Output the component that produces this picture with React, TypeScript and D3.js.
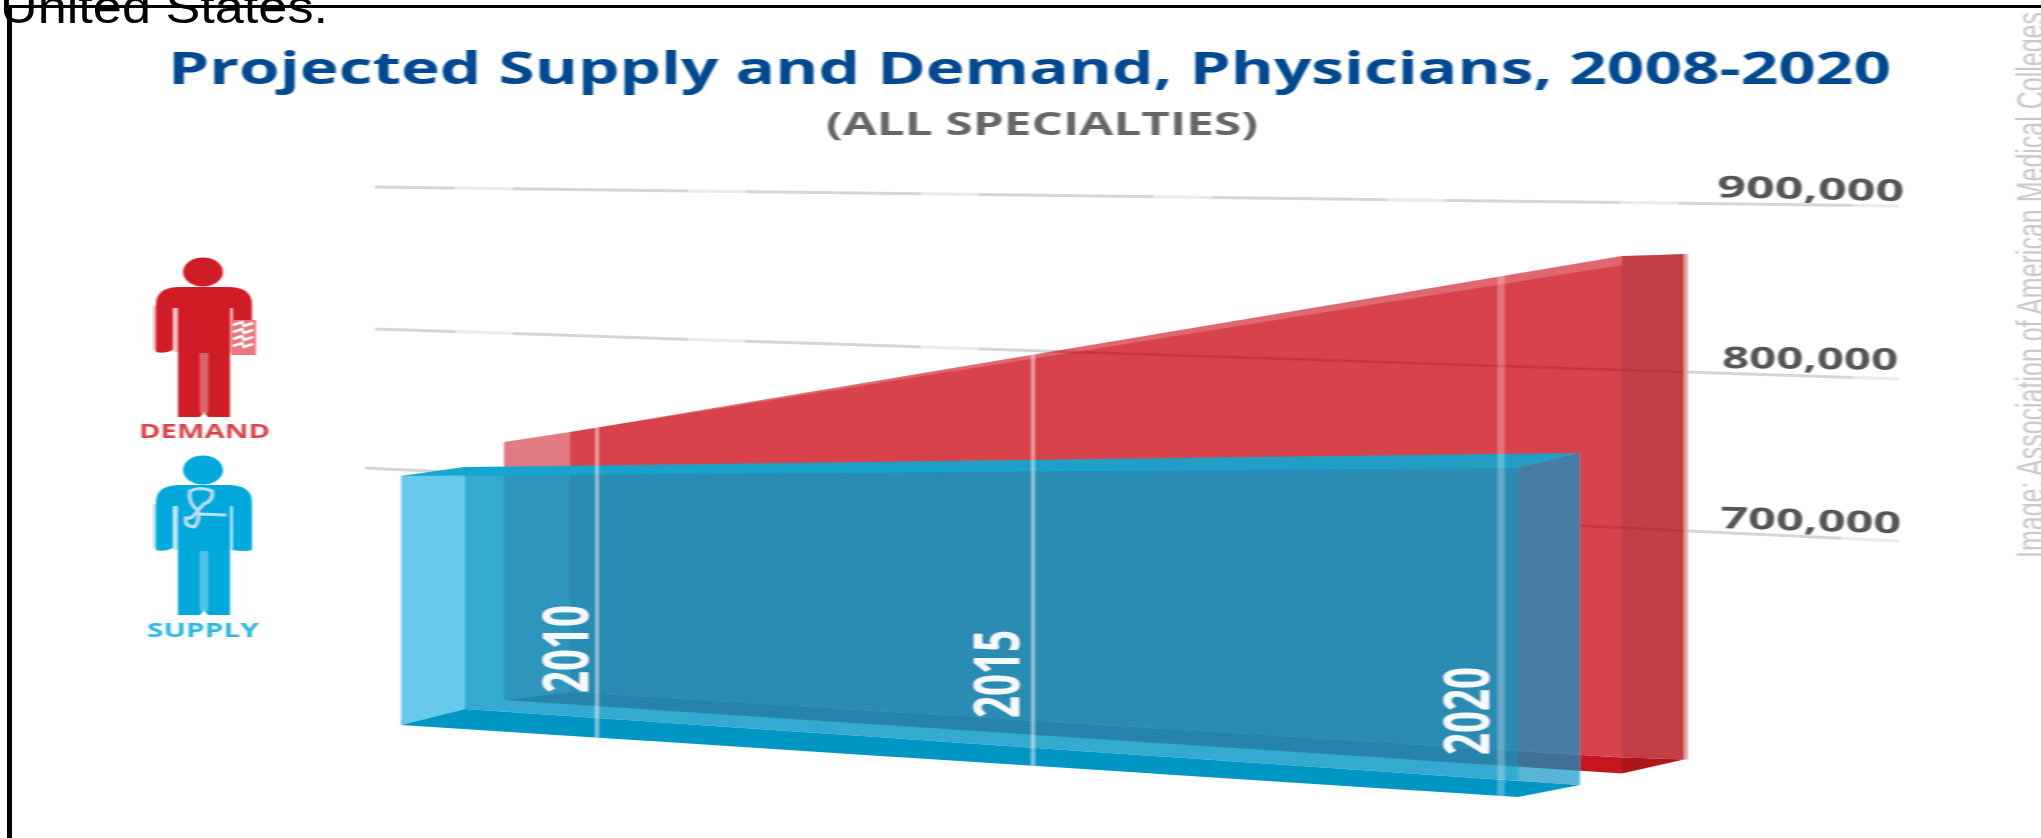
import React from "react";
import * as d3 from "d3";

// ---- data ----
const tickValues = [700000, 800000, 900000];
const tickLabels = ["700,000", "800,000", "900,000"];
const years = [2008, 2010, 2015, 2020];
const yearLabels = [2010, 2015, 2020];
const demandTop = [732000, 757500, 816500, 868000];
const demandBase = [549000, 550000, 552500, 554500];
const supplyTop = [695300, 702600, 719600, 735100];
const supplyBase = [516800, 518300, 521600, 524500];

const W = 2041;
const H = 838;

// Perspective: the value axis is drawn on a tilted plane, so each value has a left and a right end
const gridX0 = 370;
const gridX1 = 1899;
const yLeft = d3.scaleLinear().domain(tickValues).range([468, 329, 187]);
const yRight = d3.scaleLinear().domain(tickValues).range([541, 379, 206]);
const yAt = (v: number, x: number) => {
  const t = (x - gridX0) / (gridX1 - gridX0);
  return yLeft(v) + (yRight(v) - yLeft(v)) * t;
};
const yearX = d3.scaleLinear().domain([2010, 2015, 2020]).range([597, 1033, 1501]);
const demandX = d3.scaleLinear().domain([2008, 2020]).range([570, 1622]);
const supplyX = d3.scaleLinear().domain([2008, 2020]).range([401, 1518]);

type P = [number, number];
const closed = d3.line<P>().curve(d3.curveLinearClosed);
const poly = (pts: P[]) => closed(pts) as string;

const topEdge = (vals: number[], sx: d3.ScaleLinear<number, number>): P[] =>
  years.map((yr, i) => [sx(yr), yAt(vals[i], sx(yr))] as P);

// Demand box
const dTop = topEdge(demandTop, demandX);
const dBase = topEdge(demandBase, demandX);
const dTL = dTop[0], dTR = dTop[dTop.length - 1], dBL = dBase[0], dBR = dBase[dBase.length - 1];
const dBackTL: P = [dTL[0] - 66, dTL[1] + 10];
const dBackBL: P = [dBL[0] - 66, dBL[1] + 8];
const dBackTR: P = [dTR[0] + 62, dTR[1] - 2];
const dBackBR: P = [dBR[0] + 62, dBR[1] + 2];
const dFloorFront: P = [dBR[0], dBR[1] + 16];
const demandFront = poly([...dTop, ...[...dBase].reverse()]);

// Supply box
const sTop = topEdge(supplyTop, supplyX);
const sBase = topEdge(supplyBase, supplyX);
const sTL = sTop[0], sTR = sTop[sTop.length - 1], sBL = sBase[0], sBR = sBase[sBase.length - 1];
const sBackTL: P = [465, sTL[1] - 9];
const sBackTR: P = [1580, sTR[1] - 15];
const sBackBL: P = [465, sBL[1] - 16];
const sBackBR: P = [1580, sBR[1] - 12];
const sInnerBR: P = [sTR[0], sBackBL[1] + ((sTR[0] - 465) / (1580 - 465)) * (sBackBR[1] - sBackBL[1])];

const sans = "'Open Sans', 'Noto Sans', sans-serif";

function Person({ dy, color, isDemand }: { dy: number; color: string; isDemand: boolean }) {
  return (
    <g transform={`translate(0,${dy})`}>
      <ellipse cx={203} cy={272} rx={20} ry={14.5} fill={color} />
      <path
        d="M156 352 L156 304 Q156 288 178 287 L230 287 Q252 288 252 304 L252 352 Q244 354 233 352 L233 308 L230 308 L230 417 L208 417 L204 412 L200 417 L178 417 L178 308 L173 308 L173 350 Q165 354 156 352 Z"
        fill={color}
      />
      <rect x={200} y={353} width={8} height={60} fill="#fff" opacity={0.3} />
      <rect x={153} y={306} width={3} height={44} fill={color} opacity={0.3} />
      <rect x={174} y={308} width={4} height={44} fill={color} opacity={0.3} />
      <rect x={230} y={308} width={3} height={44} fill={color} opacity={0.3} />
      {isDemand ? (
        <g>
          <rect x={231} y={320} width={25} height={35} fill="#e9777d" />
          {[325, 332, 339, 346].map((y) => (
            <path key={y} d={`M233 ${y} L242 ${y - 3} L244 ${y + 1} L253 ${y - 2}`} stroke="#fff" strokeWidth={2.4} fill="none" />
          ))}
        </g>
      ) : (
        <g fill="none" stroke="#b8e4f4" strokeWidth={3}>
          <path d="M190 293 Q188 306 198 312 L204 306 Q214 302 212 293 Q200 288 190 293 Z" />
          <path d="M198 312 Q192 322 186 320 Q184 328 194 329 Q200 324 198 312" />
          <path d="M198 316 L226 317" />
        </g>
      )}
    </g>
  );
}

export default function App() {
  const lineFor = (v: number) => ({
    x1: v === 700000 ? 365 : 375,
    y1: yLeft(v),
    x2: gridX1,
    y2: yRight(v),
  });
  const labelPos: Record<string, [number, number, number, number]> = {
    "700,000": [1720, 528, 181, 1.7],
    "800,000": [1722, 368, 176, 0.6],
    "900,000": [1717, 197, 187, 1.3],
  };
  const yearText: Record<number, [number, number]> = { 2010: [588, 693], 2015: [1019, 718], 2020: [1489, 755] };
  const yearStroke: Record<number, [number, number]> = { 2010: [3, 0.55], 2015: [3.5, 0.5], 2020: [7, 0.27] };
  return (
    <svg width={W} height={H} viewBox={`0 0 ${W} ${H}`} style={{ position: "fixed", left: 0, top: 0, background: "#fff" }}>
      <defs>
        <filter id="soft" x="-2%" y="-2%" width="104%" height="104%">
          <feGaussianBlur stdDeviation="0.9 0.5" />
        </filter>
        <clipPath id="redClip">
          <path d={demandFront} />
          <path d={poly([dTR, dBackTR, dBackBR, dBR])} />
        </clipPath>
      </defs>

      <g filter="url(#soft)">
        <text x={168} y={84} fontFamily={sans} fontWeight={700} fontSize={44} fill="#034a90" textLength={1723} lengthAdjust="spacingAndGlyphs">
          Projected Supply and Demand, Physicians, 2008-2020
        </text>
        <text x={826} y={135} fontFamily={sans} fontWeight={700} fontSize={32} fill="#666" textLength={432} lengthAdjust="spacingAndGlyphs">
          (ALL SPECIALTIES)
        </text>

        {/* value grid */}
        {tickValues.map((v) => (
          <g key={v}>
            <line {...lineFor(v)} stroke="#d6d6d6" strokeWidth={3} />
            <line {...lineFor(v)} stroke="#fff" strokeOpacity={0.5} strokeWidth={3.4} strokeDasharray="58 175" strokeDashoffset={-80} />
          </g>
        ))}

        {/* demand box */}
        <path d={poly([dBackTL, dTL, dBL, dBackBL])} fill="#e27b82" />
        <path d={demandFront} fill="#d8434c" />
        <path d={poly([dTR, dBackTR, dBackBR, dBR])} fill="#c23c45" />
        <path d={poly([dBackBL, dBL, dBR, dFloorFront])} fill="#c4161f" />
        <path d={poly([dBR, dBackBR, dFloorFront])} fill="#ac1218" />
        <path d={poly([dTL, dTR, [dTR[0], dTR[1] + 9]])} fill="#fff" opacity={0.2} />
        <path d={poly([[dBackBR[0], dBackTR[1]], [dBackBR[0] + 4, dBackTR[1]], [dBackBR[0] + 4, dBackBR[1]], [dBackBR[0], dBackBR[1]]])} fill="#e5a5a9" />
        <g clipPath="url(#redClip)">
          {tickValues.map((v) => (
            <line key={v} {...lineFor(v)} x1={v === 700000 ? 1580 : 1000} y1={yAt(v, v === 700000 ? 1580 : 1000)} stroke="#b8262f" strokeOpacity={0.45} strokeWidth={2.6} />
          ))}
        </g>

        {/* supply box */}
        <path d={poly([sBackBL, sBackBR, sBR, sBL])} fill="#0096c4" />
        <path d={poly([sBackTL, sTR, sInnerBR, sBackBL])} fill="#0a9ac7" fillOpacity={0.84} />
        <path d={poly([sTL, sBackTL, sBackBL, sBL])} fill="#00a5dc" fillOpacity={0.6} />
        <path d={poly([sTR, sBackTR, sBackBR, sInnerBR])} fill="#0a96c8" fillOpacity={0.7} />
        <path d={poly([sTL, sBackTL, sBackTR, sTR])} fill="#12a6cf" fillOpacity={0.92} />

        {/* year markers */}
        {yearLabels.map((yr) => {
          const x = yearX(yr);
          const top = d3.scaleLinear().domain([570, 1622]).range([432, 255])(x);
          const bottom = d3.scaleLinear().domain([401, 1518]).range([sBL[1], sBR[1]])(x);
          const [w, o] = yearStroke[yr];
          return <line key={yr} x1={x} x2={x} y1={top} y2={bottom} stroke="#fff" strokeOpacity={o} strokeWidth={w} />;
        })}
        {yearLabels.map((yr) => {
          const [bx, by] = yearText[yr];
          return (
            <text key={yr} transform={`translate(${bx},${by}) scale(1.65,1) rotate(-90)`} fontFamily={sans} fontWeight={700} fontSize={38} fill="#f4f9fb" textLength={88} lengthAdjust="spacingAndGlyphs">
              {yr}
            </text>
          );
        })}

        {/* value labels */}
        {tickLabels.map((t) => {
          const [x, y, len, rot] = labelPos[t];
          return (
            <text key={t} transform={`translate(${x},${y}) rotate(${rot})`} fontFamily={sans} fontWeight={700} fontSize={30} fill="#555" textLength={len} lengthAdjust="spacingAndGlyphs">
              {t}
            </text>
          );
        })}

        {/* legend figures */}
        <Person dy={0} color="#cf1f28" isDemand />
        <text x={139} y={438} fontFamily={sans} fontWeight={700} fontSize={20} fill="#d9434c" textLength={131} lengthAdjust="spacingAndGlyphs">
          DEMAND
        </text>
        <Person dy={198} color="#00a8db" isDemand={false} />
        <text x={147} y={637} fontFamily={sans} fontWeight={700} fontSize={20} fill="#2db5e0" textLength={112} lengthAdjust="spacingAndGlyphs">
          SUPPLY
        </text>

        {/* credit */}
        <text transform="translate(2045,558) scale(1.7,1) rotate(-90)" fontFamily="'Liberation Sans', sans-serif" fontSize={24} fill="#c9c9c9" textLength={546} lengthAdjust="spacingAndGlyphs">
          Image: Association of American Medical Colleges
        </text>
      </g>

      {/* page frame and clipped caption */}
      <line x1={6} x2={W} y1={6.5} y2={6.5} stroke="#000" strokeWidth={3} />
      <line x1={9.5} x2={9.5} y1={5} y2={H} stroke="#000" strokeWidth={5} />
      <text x={0} y={23} fontFamily="'Liberation Sans', Arial, sans-serif" fontSize={46} fill="#000" textLength={328} lengthAdjust="spacingAndGlyphs">
        United States.
      </text>
    </svg>
  );
}
